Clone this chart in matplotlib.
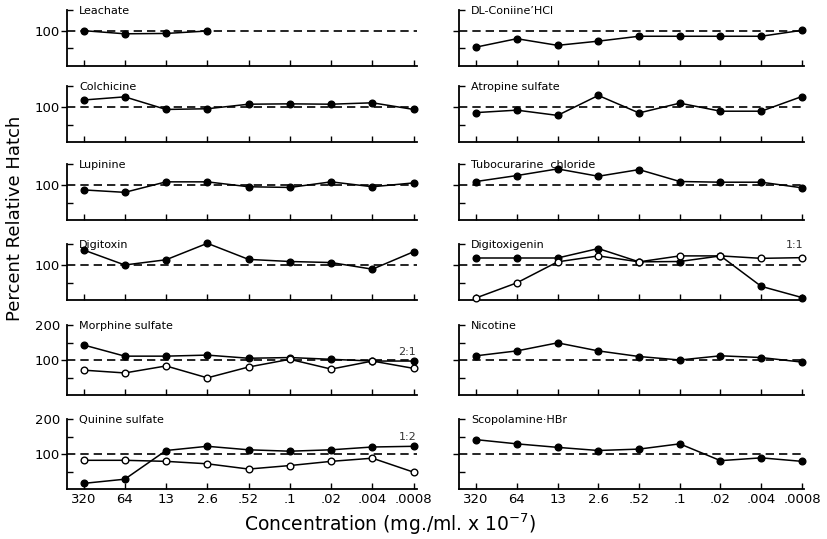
import numpy as np
import matplotlib.pyplot as plt
from matplotlib.transforms import blended_transform_factory

# concentration steps (mg./ml. x 10^-7), same for every panel
conc = ['320', '64', '13', '2.6', '.52', '.1', '.02', '.004', '.0008']

# percent relative hatch, left column
leachate = [101, 92, 93, 100]
colchicine = [120, 129, 93, 95, 108, 109, 108, 112, 93]
lupinine = [86, 79, 109, 109, 95, 93, 109, 95, 106]
digitoxin = [143, 100, 115, 162, 116, 110, 107, 88, 138]
morphine = [143, 111, 111, 114, 105, 107, 102, 97, 97]
morphine_mix = [71, 63, 83, 49, 80, 102, 74, 97, 76]
quinine = [16, 28, 110, 122, 112, 108, 112, 120, 122]
quinine_mix = [82, 82, 79, 72, 57, 67, 79, 88, 48]

# right column
coniine = [54, 78, 59, 71, 85, 85, 85, 85, 102]
atropine = [84, 91, 76, 133, 83, 111, 88, 88, 130]
tubocurarine = [110, 127, 146, 125, 144, 110, 108, 108, 92]
digitoxigenin = [120, 120, 120, 147, 109, 110, 126, 39, 7]
digitoxigenin_mix = [6, 49, 109, 126, 109, 126, 126, 119, 121]
nicotine = [112, 126, 149, 126, 110, 100, 112, 107, 94]
scopolamine = [141, 129, 119, 110, 114, 129, 81, 89, 79]

# (title, filled series, open series, ratio label, label height)
left = [('Leachate', leachate, None, None, 0),
        ('Colchicine', colchicine, None, None, 0),
        ('Lupinine', lupinine, None, None, 0),
        ('Digitoxin', digitoxin, None, None, 0),
        ('Morphine sulfate', morphine, morphine_mix, '2:1', 124),
        ('Quinine sulfate', quinine, quinine_mix, '1:2', 150)]
right = [('DL-Coniine\u2019HCl', coniine, None, None, 0),
         ('Atropine sulfate', atropine, None, None, 0),
         ('Tubocurarine  chloride', tubocurarine, None, None, 0),
         ('Digitoxigenin', digitoxigenin, digitoxigenin_mix, '1:1', 156),
         ('Nicotine', nicotine, None, None, 0),
         ('Scopolamine\u00b7HBr', scopolamine, None, None, 0)]

W, H = 827, 539
fig = plt.figure(figsize=(W / 100, H / 100), dpi=100)

row_base = [66, 142, 220, 300, 395, 489]   # pixel row of the zero line
row_top = [160, 160, 160, 160, 200, 200]   # top of the y spine
px = 0.35                                  # pixels per percent
cols = [(67, 350, (-0.4, 8.08), left, True),
        (459, 345, (-0.42, 8.05), right, False)]

for x0, w, xlim, panels, labels in cols:
    for r, (name, filled, hollow, ratio, ry) in enumerate(panels):
        top = row_top[r]
        ylim_top = top + 12
        ax = fig.add_axes([x0 / W, (H - row_base[r]) / H, w / W, ylim_top * px / H])
        ax.set_xlim(*xlim)
        ax.set_ylim(0, ylim_top)
        ax.patch.set_alpha(0)
        for s in ['top', 'right']:
            ax.spines[s].set_visible(False)
        ax.spines['left'].set_bounds(0, top)
        ax.spines['left'].set_linewidth(1.3)
        ax.spines['bottom'].set_linewidth(1.3)

        ax.axhline(100, color='k', lw=1.2, ls=(0, (5, 3)), zorder=1)

        ax.plot(range(len(filled)), filled, '-o', color='k', lw=1.1, ms=4.8,
                mfc='k', clip_on=False, zorder=3)
        if hollow is not None:
            ax.plot(range(len(hollow)), hollow, '-o', color='k', lw=1.1, ms=4.8,
                    mfc='white', mew=1.0, clip_on=False, zorder=3)

        ax.set_xticks(range(len(conc)))
        ax.tick_params(axis='x', direction='in', length=4, width=1)
        if r == len(panels) - 1:
            ax.set_xticklabels(conc, fontsize=9.5)
            ax.tick_params(axis='x', pad=3)
        else:
            ax.set_xticklabels([])

        ax.set_yticks([100])
        ax.tick_params(axis='y', which='major', direction='out', length=4,
                       width=1, pad=1, labelsize=9.5)
        if not labels:
            ax.set_yticklabels([])
        minor = [50, 150, 200] if top == 200 else [50, top]
        ax.set_yticks(minor, minor=True)
        ax.tick_params(axis='y', which='minor', direction='in', length=4,
                       width=1, pad=5, labelsize=9.5)
        if labels and top == 200:
            ax.set_yticklabels(['', '', '200'], minor=True)
        else:
            ax.set_yticklabels([''] * len(minor), minor=True)

        tr = blended_transform_factory(ax.transAxes, ax.transData)
        ax.text(0.035, top - 2, name, transform=tr, fontsize=8,
                va='center', ha='left')
        if ratio:
            ax.text(xlim[1] - 0.02, ry, ratio, fontsize=8, ha='right',
                    va='center', color='#333333')

fig.text(15 / W, 1 - 218 / H, 'Percent Relative Hatch', rotation=90,
         fontsize=13, ha='center', va='center')
fig.text(390 / W, 1 - 524 / H, 'Concentration (mg./ml. x $10^{-7}$)',
         fontsize=13.5, ha='center', va='center')

fig.savefig('out.png', dpi=100)
